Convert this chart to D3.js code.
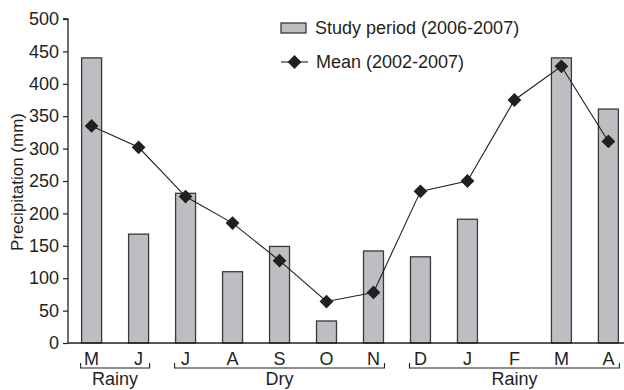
<!DOCTYPE html>
<html>
<head>
<meta charset="utf-8">
<script src="https://cdn.jsdelivr.net/npm/d3@7/dist/d3.min.js"></script>
<style>
  html, body { margin: 0; padding: 0; background: #fff; }
  svg { display: block; font-family: "Liberation Sans", Arial, sans-serif; }
</style>
</head>
<body>
<svg id="chart" width="624" height="390"></svg>
<script>
// Monthly precipitation, May 2006 to April 2007
const months = ["M", "J", "J", "A", "S", "O", "N", "D", "J", "F", "M", "A"];
const studyPeriod = [440, 168, 231, 110, 149, 34, 142, 133, 191, 0, 440, 361];
const meanValues = [335, 302, 226, 185, 127, 64, 78, 234, 250, 375, 427, 311];
const yTicks = [0, 50, 100, 150, 200, 250, 300, 350, 400, 450, 500];
const seasons = [
  { label: "Rainy", from: 0, to: 1 },
  { label: "Dry", from: 2, to: 6 },
  { label: "Rainy", from: 7, to: 11 }
];

(function () {
  const svg = d3.select("#chart");
  const ink = "#231f20";
  const barFill = "#bdbec2", barStroke = "#3a3a3a";
  const fontSize = 18;
  const plotLeft = 68, plotRight = 632, plotTop = 19, plotBottom = 343;

  const x = d3.scaleBand().domain(d3.range(months.length)).range([plotLeft, plotRight])
    .paddingInner(0.575).paddingOuter(0.29);
  const y = d3.scaleLinear().domain([0, 500]).range([plotBottom, plotTop]);

  // Bars for the study period
  svg.append("g").selectAll("rect")
    .data(studyPeriod.map((v, i) => ({ v, i })).filter(d => d.v > 0))
    .join("rect")
    .attr("x", d => x(d.i))
    .attr("y", d => y(d.v))
    .attr("width", x.bandwidth())
    .attr("height", d => y(0) - y(d.v))
    .attr("fill", barFill)
    .attr("stroke", barStroke)
    .attr("stroke-width", 1.3);

  // Y axis
  const yAxis = svg.append("g")
    .attr("transform", `translate(${plotLeft},0)`)
    .call(d3.axisLeft(y).tickValues(yTicks).tickSize(5).tickPadding(4));
  yAxis.select(".domain").attr("stroke", ink).attr("stroke-width", 1.3).attr("d", `M-5,${plotTop}H0V${plotBottom}`);
  yAxis.selectAll(".tick line").attr("stroke", ink).attr("stroke-width", 1.2);
  yAxis.selectAll(".tick text").attr("fill", ink).attr("font-size", fontSize).attr("font-family", "Liberation Sans, Arial, sans-serif");

  // X axis
  const xAxis = svg.append("g")
    .attr("transform", `translate(0,${plotBottom})`)
    .call(d3.axisBottom(x).tickFormat(i => months[i]).tickSize(0).tickPadding(9));
  xAxis.select(".domain").attr("stroke", ink).attr("stroke-width", 1.3).attr("d", `M${plotLeft},0H624`);
  xAxis.selectAll(".tick text").attr("fill", ink).attr("font-size", fontSize).attr("font-family", "Liberation Sans, Arial, sans-serif");

  // Mean line with diamond markers
  const cx = i => x(i) + x.bandwidth() / 2;
  const marker = d3.symbol().type(d3.symbolSquare).size(95);
  svg.append("path")
    .datum(meanValues)
    .attr("fill", "none")
    .attr("stroke", ink)
    .attr("stroke-width", 1.1)
    .attr("d", d3.line().x((d, i) => cx(i)).y(d => y(d)));
  svg.append("g").selectAll("path")
    .data(meanValues)
    .join("path")
    .attr("transform", (d, i) => `translate(${cx(i)},${y(d)}) rotate(45)`)
    .attr("d", marker)
    .attr("fill", ink);

  // Season brackets
  const brY = 368;
  const brG = svg.append("g");
  seasons.forEach(s => {
    const x0 = x(s.from) - 1;
    const x1 = Math.min(x(s.to) + x.bandwidth() + 1, 623);
    brG.append("path")
      .attr("d", `M${x0},${brY - 5}V${brY}H${x1}V${brY - 5}`)
      .attr("fill", "none")
      .attr("stroke", ink)
      .attr("stroke-width", 1.1);
    brG.append("text")
      .attr("x", (x0 + x1) / 2)
      .attr("y", brY + 17)
      .attr("text-anchor", "middle")
      .attr("font-size", fontSize)
      .attr("fill", ink)
      .text(s.label);
  });

  // Y axis title
  svg.append("text")
    .attr("transform", `translate(23,182) rotate(-90)`)
    .attr("text-anchor", "middle")
    .attr("font-size", 17)
    .attr("fill", ink)
    .text("Precipitation (mm)");

  // Legend
  const lg = svg.append("g");
  lg.append("rect").attr("x", 281).attr("y", 23).attr("width", 25).attr("height", 10)
    .attr("fill", barFill).attr("stroke", barStroke).attr("stroke-width", 1.3);
  lg.append("text").attr("x", 315).attr("y", 34).attr("font-size", fontSize).attr("fill", ink).text("Study period (2006-2007)");
  lg.append("line").attr("x1", 281).attr("x2", 308).attr("y1", 62).attr("y2", 62).attr("stroke", ink).attr("stroke-width", 1.1);
  lg.append("path").attr("transform", "translate(294.5,62) rotate(45)").attr("d", marker).attr("fill", ink);
  lg.append("text").attr("x", 316).attr("y", 68).attr("font-size", fontSize).attr("fill", ink).text("Mean (2002-2007)");
})();
</script>
</body>
</html>
